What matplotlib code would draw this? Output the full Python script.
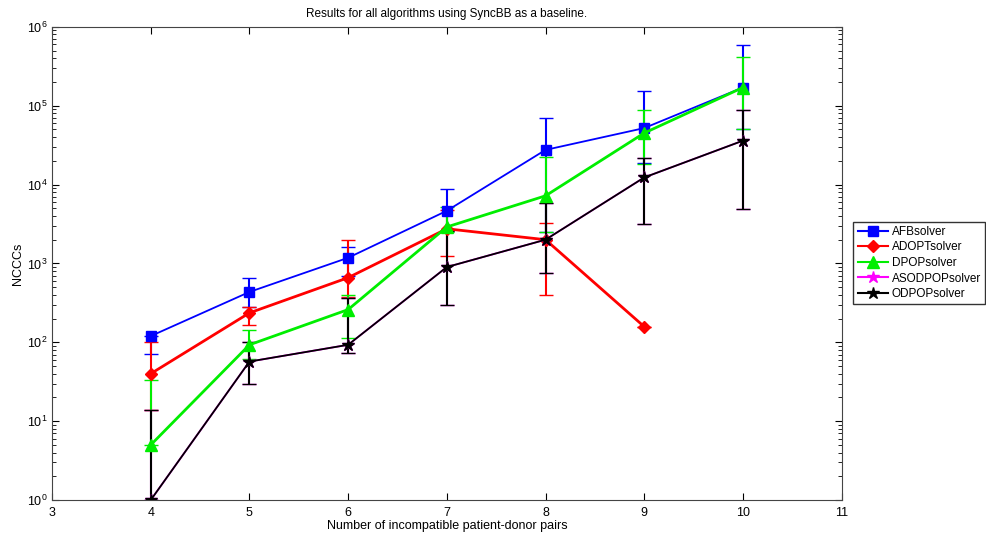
import matplotlib
matplotlib.use('Agg')
import matplotlib.pyplot as plt
from matplotlib.lines import Line2D
import numpy as np

plt.rcParams['font.family'] = ['Liberation Sans', 'DejaVu Sans']

# number of pairs
pairs = [4, 5, 6, 7, 8, 9, 10]

# NCCCs per solver (mean, lower bound, upper bound)
afb = [120, 435, 1180, 4650, 27500, 52000, 170000]
afb_lo = [71, 280, 700, 2600, 2500, 19000, 51000]
afb_hi = [120, 660, 1600, 8900, 70000, 155000, 580000]

adopt = [40, 236, 660, 2750, 2000, 158, np.nan]
adopt_lo = [14, 165, 380, 1250, 400, 158, np.nan]
adopt_hi = [100, 280, 2000, 4800, 3300, 158, np.nan]

dpop = [5, 93, 260, 2900, 7200, 45000, 170000]
dpop_lo = [5, 62, 115, 2500, 2500, 18000, 51000]
dpop_hi = [33, 145, 400, 5200, 22500, 89000, 410000]

odpop = [1, 57, 93, 900, 2000, 12300, 36000]
odpop_lo = [1, 30, 74, 300, 760, 3200, 4900]
odpop_hi = [14, 100, 365, 2600, 5900, 22000, 89000]

names = ['AFBsolver', 'ADOPTsolver', 'DPOPsolver', 'ASODPOPsolver', 'ODPOPsolver']
colors = ['#0000ff', '#ff0000', '#00ee00', '#ff00ff', 'black']
markers = ['s', 'D', '^', '*', '*']
msizes = [7, 6, 8, 9, 9]
widths = [1.3, 2, 2, 1.3, 1.3]

def err(v, lo, hi):
    v = np.array(v, float)
    return [v - np.array(lo, float), np.array(hi, float) - v]

fig = plt.figure(figsize=(9.87, 5.36), dpi=100)
ax = fig.add_axes([0.0527, 0.067, 0.8, 0.883])

series = [(afb, afb_lo, afb_hi), (adopt, adopt_lo, adopt_hi), (dpop, dpop_lo, dpop_hi),
          (odpop, odpop_lo, odpop_hi), (odpop, odpop_lo, odpop_hi)]
for (v, lo, hi), c, m, ms, lw in zip(series, colors, markers, msizes, widths):
    ax.errorbar(pairs, v, yerr=err(v, lo, hi), color=c, marker=m, markersize=ms,
                lw=lw, elinewidth=1.5, capsize=5)

ax.set_yscale('log')
ax.set_xlim(3, 11)
ax.set_ylim(1, 1e6)
ax.set_xticks(range(3, 12))
ax.tick_params(which='both', direction='in', top=True, right=True, labelsize=9)
ax.tick_params(axis='x', pad=5)
ax.tick_params(which='major', length=5)
ax.tick_params(which='minor', length=3)
for s in ax.spines.values():
    s.set_color('#444444')

ax.set_xlabel('Number of incompatible patient-donor pairs', fontsize=9, labelpad=1)
ax.set_ylabel('NCCCs', fontsize=9, labelpad=2)
ax.set_title('Results for all algorithms using SyncBB as a baseline.', fontsize=8.5, pad=7)

handles = [Line2D([], [], color=c, marker=m, markersize=ms, lw=1.5)
           for c, m, ms in zip(colors, markers, msizes)]
ax.legend(handles, names, loc='upper left', bbox_to_anchor=(1.015, 0.588), fontsize=8.5,
          frameon=True, fancybox=False, edgecolor='black', handlelength=2.6,
          borderpad=0.35, labelspacing=0.3, handletextpad=0.3, borderaxespad=0)

fig.savefig('out.png', dpi=100)
